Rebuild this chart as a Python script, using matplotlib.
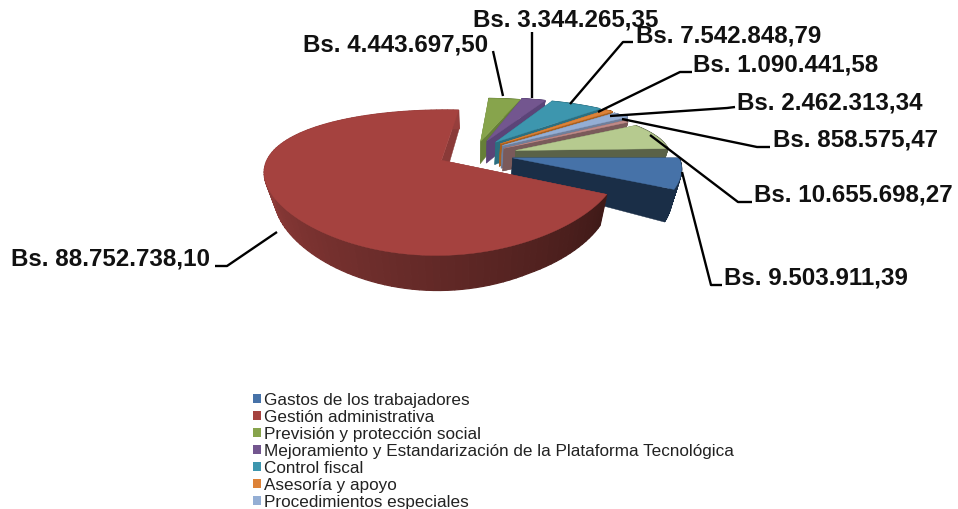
import numpy as np
from matplotlib import pyplot as plt
from matplotlib.patches import Polygon, Patch
from matplotlib.colors import to_rgb

plt.rcParams['font.family'] = ['Liberation Sans', 'DejaVu Sans']

# datos
valores = [9503911.39, 88752738.10, 4443697.50, 3344265.35, 7542848.79,
           1090441.58, 2462313.34, 858575.47, 10655698.27]
categorias = ["Gastos de los trabajadores", "Gestión administrativa",
              "Previsión y protección social",
              "Mejoramiento y Estandarización de la Plataforma Tecnológica",
              "Control fiscal", "Asesoría y apoyo", "Procedimientos especiales"]
etiquetas = ["Bs. 9.503.911,39", "Bs. 88.752.738,10", "Bs. 4.443.697,50",
             "Bs. 3.344.265,35", "Bs. 7.542.848,79", "Bs. 1.090.441,58",
             "Bs. 2.462.313,34", "Bs. 858.575,47", "Bs. 10.655.698,27"]

# colores
tapa = ['#4672a8', '#a5423f', '#87a44c', '#73568f', '#3d96ae', '#dd8238', '#94aed4', '#c08a88', '#b6ca8f']
pared = ['#1a2e47', '#8a3a38', '#667f38', '#5b4478', '#2c6f80', '#a8601f', '#6f7f9c', '#7a5a5a', '#5a6248']

# posicion de las etiquetas (x izquierda, y centro) y sus lineas guia
pos_etq = [(724, 278), (11, 259), (303, 45), (473, 20), (636, 36), (693, 65), (737, 103), (773, 140), (754, 195)]
guias = [[(722, 286), (711, 286), (682, 173)],
         [(215, 267), (227, 267), (277, 233)],
         [(493, 52), (503, 97)],
         [(532, 33), (532, 99)],
         [(633, 43), (623, 43), (570, 105)],
         [(692, 73), (680, 73), (598, 113)],
         [(735, 108), (727, 109), (610, 117)],
         [(770, 148), (757, 148), (622, 120)],
         [(752, 203), (738, 203), (650, 136)]]

# geometria del pastel 3D
cx, cy, rx, ry = 475, 153, 172, 62
kx, ky, alto, expl = 0.15, 0.30, 23.5, 0.20
inicio = 90.0
# ajuste a mano de cada porcion: dx, dy, giro, escala
ajustes = [(4, 3, 0, 0.96), (-3, 2, 0, 1), (0, 1, -1.5, 1), (1, 0, -3, 1), (2, 0, -3.5, 1),
           (1, 0, -3, 1), (1, 1, -3, 1), (1, 3, -3, 0.95), (8, 2, -2, 0.9)]


def proy(u, v, z=0.0, dx=0, dy=0):
    sx = 1 / (1 + kx * v)
    sy = 1 / (1 + ky * v)
    x = rx * u * sx
    # las paredes convergen hacia abajo y crecen a la derecha
    fondo = 1 + 0.25 * max(u - 0.3, 0)
    return cx + x * (1 - 0.05 * z) + dx, cy - ry * v * sy + alto * z * sy * fondo + dy


plt.figure(figsize=(9.58, 5.10), dpi=100)
ax = plt.axes([0, 0, 1, 1])
ax.set_xlim(0, 958)
ax.set_ylim(510, 0)
ax.axis('off')

total = sum(valores)
angulos = inicio + np.cumsum([0] + [v / total * 360 for v in valores])

# se pinta de atras hacia adelante, el rojo al final
orden = [2, 3, 4, 5, 6, 7, 8, 0, 1]
for z, i in enumerate(orden):
    dx, dy, giro, esc = ajustes[i]
    a0, a1 = np.radians(angulos[i] + giro), np.radians(angulos[i + 1] + giro)
    am = (a0 + a1) / 2
    ou, ov = expl * np.sin(am), expl * np.cos(am)
    t = np.linspace(a0, a1, 120)
    us = ou + esc * np.sin(t)
    vs = ov + esc * np.cos(t)

    # paredes radiales
    for u, v in [(us[0], vs[0]), (us[-1], vs[-1])]:
        ax.add_patch(Polygon([proy(ou, ov, 0, dx, dy), proy(u, v, 0, dx, dy),
                              proy(u, v, 1, dx, dy), proy(ou, ov, 1, dx, dy)],
                             fc=pared[i], ec=pared[i], lw=0.3, zorder=z * 3 + 1))

    # pared exterior con degradado
    for k in range(len(t) - 1):
        if i == 1:
            f = k / (len(t) - 2)
            c0, c1 = np.array(to_rgb('#3f1a18')), np.array(to_rgb('#963e3c'))
            col = c0 + (c1 - c0) * min(f * 1.6, 1)
        else:
            col = pared[i]
        ax.add_patch(Polygon([proy(us[k], vs[k], 0, dx, dy), proy(us[k + 1], vs[k + 1], 0, dx, dy),
                              proy(us[k + 1], vs[k + 1], 1, dx, dy), proy(us[k], vs[k], 1, dx, dy)],
                             fc=col, ec=col, lw=0.9, zorder=z * 3 + 2))

    # tapa
    puntos = [proy(ou, ov, 0, dx, dy)] + [proy(u, v, 0, dx, dy) for u, v in zip(us, vs)]
    ax.add_patch(Polygon(puntos, fc=tapa[i], ec=tapa[i], lw=0.3, zorder=z * 3 + 3))

# etiquetas y guias
for i in range(len(valores)):
    xs, ys = zip(*guias[i])
    ax.plot(xs, ys, color='black', lw=1.7, zorder=50, solid_capstyle='butt')
    ax.text(pos_etq[i][0], pos_etq[i][1], etiquetas[i], fontsize=17.4, fontweight='bold',
            va='center', ha='left', color='#111111', zorder=60)

# leyenda
manejadores = [Patch(fc=tapa[i], ec='none', label=categorias[i]) for i in range(len(categorias))]
ax.legend(handles=manejadores, loc='upper left', bbox_to_anchor=(253, 393.5), bbox_transform=ax.transData,
          frameon=False, fontsize=12.3, handlelength=0.47, handleheight=0.47, handletextpad=0.18,
          labelspacing=0.115, borderpad=0, borderaxespad=0, labelcolor='#222222')

plt.savefig("out.png", dpi=100)
